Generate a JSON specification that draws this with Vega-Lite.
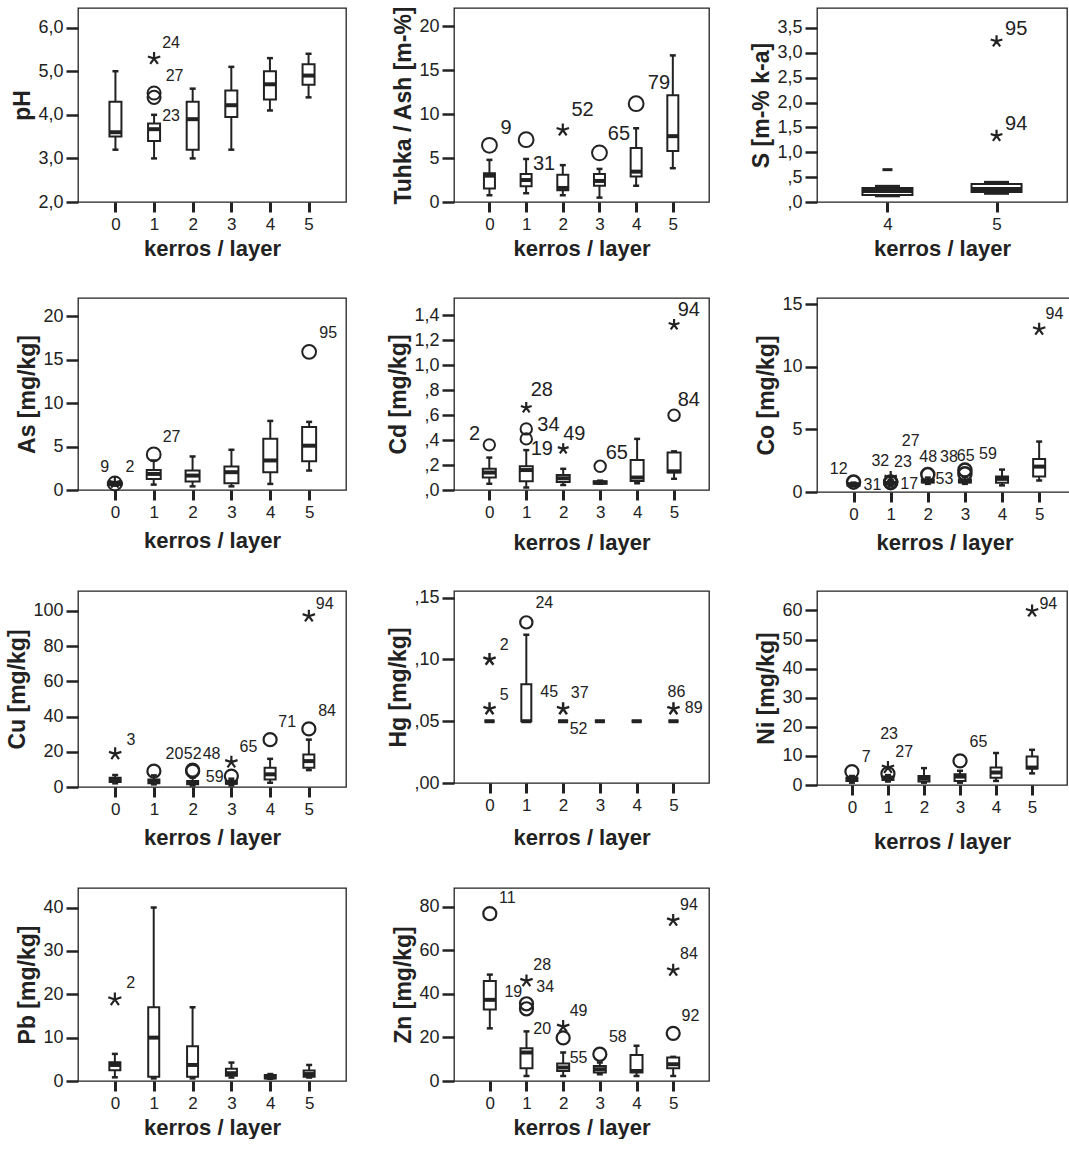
{
"$schema": "https://vega.github.io/schema/vega-lite/v6.json",
"background": "white",
"padding": {"left": 6, "top": 4, "right": 0, "bottom": 0},
"columns": 3,
"spacing": {"row": 34, "column": 40},
"resolve": {"scale": {"x": "independent", "y": "independent"}},
"datasets": {
"box": [
{"p":"pH","k":0,"lo":3.2,"q1":3.5,"med":3.6,"q3":4.3,"hi":5.0},
{"p":"pH","k":1,"lo":3.0,"q1":3.4,"med":3.67,"q3":3.8,"hi":4.0},
{"p":"pH","k":2,"lo":3.0,"q1":3.2,"med":3.9,"q3":4.3,"hi":4.6},
{"p":"pH","k":3,"lo":3.2,"q1":3.95,"med":4.22,"q3":4.56,"hi":5.1},
{"p":"pH","k":4,"lo":4.1,"q1":4.35,"med":4.7,"q3":5.0,"hi":5.3},
{"p":"pH","k":5,"lo":4.4,"q1":4.69,"med":4.9,"q3":5.16,"hi":5.4},
{"p":"Ash","k":0,"lo":0.77,"q1":1.54,"med":3.0,"q3":3.27,"hi":4.8},
{"p":"Ash","k":1,"lo":1.0,"q1":1.8,"med":2.5,"q3":3.2,"hi":4.9},
{"p":"Ash","k":2,"lo":0.77,"q1":1.35,"med":1.6,"q3":3.1,"hi":4.2},
{"p":"Ash","k":3,"lo":0.5,"q1":1.85,"med":2.4,"q3":3.2,"hi":3.77},
{"p":"Ash","k":4,"lo":1.85,"q1":2.9,"med":3.46,"q3":6.15,"hi":8.4},
{"p":"Ash","k":5,"lo":3.85,"q1":5.8,"med":7.5,"q3":12.15,"hi":16.7},
{"p":"S","k":4,"lo":0.12,"q1":0.14,"med":0.22,"q3":0.28,"hi":0.32},
{"p":"S","k":5,"lo":0.17,"q1":0.2,"med":0.26,"q3":0.36,"hi":0.4},
{"p":"As","k":0,"lo":0.5,"q1":0.6,"med":0.7,"q3":0.8,"hi":0.9},
{"p":"As","k":1,"lo":0.62,"q1":1.27,"med":1.85,"q3":2.3,"hi":3.4},
{"p":"As","k":2,"lo":0.42,"q1":0.97,"med":1.66,"q3":2.24,"hi":3.86},
{"p":"As","k":3,"lo":0.42,"q1":0.77,"med":2.05,"q3":2.7,"hi":4.63},
{"p":"As","k":4,"lo":0.7,"q1":2.05,"med":3.4,"q3":5.9,"hi":7.95},
{"p":"As","k":5,"lo":2.24,"q1":3.32,"med":5.1,"q3":7.26,"hi":7.84},
{"p":"Cd","k":0,"lo":0.05,"q1":0.1,"med":0.14,"q3":0.17,"hi":0.26},
{"p":"Cd","k":1,"lo":0.02,"q1":0.07,"med":0.16,"q3":0.19,"hi":0.32},
{"p":"Cd","k":2,"lo":0.04,"q1":0.064,"med":0.094,"q3":0.12,"hi":0.17},
{"p":"Cd","k":3,"lo":0.05,"q1":0.05,"med":0.06,"q3":0.07,"hi":0.075},
{"p":"Cd","k":4,"lo":0.054,"q1":0.072,"med":0.1,"q3":0.24,"hi":0.41},
{"p":"Cd","k":5,"lo":0.09,"q1":0.14,"med":0.15,"q3":0.3,"hi":0.31},
{"p":"Co","k":0,"lo":0.45,"q1":0.5,"med":0.6,"q3":0.7,"hi":0.75},
{"p":"Co","k":1,"lo":0.5,"q1":0.6,"med":0.7,"q3":0.8,"hi":0.95},
{"p":"Co","k":2,"lo":0.65,"q1":0.75,"med":0.85,"q3":1.0,"hi":1.15},
{"p":"Co","k":3,"lo":0.65,"q1":0.75,"med":0.85,"q3":1.0,"hi":1.2},
{"p":"Co","k":4,"lo":0.53,"q1":0.74,"med":1.05,"q3":1.24,"hi":1.79},
{"p":"Co","k":5,"lo":0.92,"q1":1.24,"med":2.03,"q3":2.63,"hi":4.03},
{"p":"Cu","k":0,"lo":2.1,"q1":2.8,"med":4.3,"q3":5.3,"hi":6.8},
{"p":"Cu","k":1,"lo":1.5,"q1":2.1,"med":3.4,"q3":4.3,"hi":6.6},
{"p":"Cu","k":2,"lo":0.9,"q1":1.5,"med":2.4,"q3":3.4,"hi":5.3},
{"p":"Cu","k":3,"lo":0.9,"q1":1.9,"med":2.4,"q3":3.4,"hi":4.7},
{"p":"Cu","k":4,"lo":2.4,"q1":4.3,"med":7.2,"q3":10.9,"hi":16},
{"p":"Cu","k":5,"lo":9.6,"q1":10.9,"med":14.7,"q3":18.5,"hi":26.9},
{"p":"Hg","k":0,"lo":0.05,"q1":0.05,"med":0.05,"q3":0.05,"hi":0.05},
{"p":"Hg","k":1,"lo":0.05,"q1":0.05,"med":0.05,"q3":0.08,"hi":0.12},
{"p":"Hg","k":2,"lo":0.05,"q1":0.05,"med":0.05,"q3":0.05,"hi":0.05},
{"p":"Hg","k":3,"lo":0.05,"q1":0.05,"med":0.05,"q3":0.05,"hi":0.05},
{"p":"Hg","k":4,"lo":0.05,"q1":0.05,"med":0.05,"q3":0.05,"hi":0.05},
{"p":"Hg","k":5,"lo":0.05,"q1":0.05,"med":0.05,"q3":0.05,"hi":0.05},
{"p":"Ni","k":0,"lo":0.8,"q1":1.4,"med":2.0,"q3":2.5,"hi":3.1},
{"p":"Ni","k":1,"lo":1.2,"q1":1.7,"med":2.2,"q3":2.9,"hi":3.4},
{"p":"Ni","k":2,"lo":0.8,"q1":1.2,"med":2.2,"q3":3.1,"hi":5.8},
{"p":"Ni","k":3,"lo":0.8,"q1":1.4,"med":2.9,"q3":3.7,"hi":4.9},
{"p":"Ni","k":4,"lo":1.4,"q1":2.5,"med":4.3,"q3":6.0,"hi":11},
{"p":"Ni","k":5,"lo":4.0,"q1":5.7,"med":6.0,"q3":9.8,"hi":12.1},
{"p":"Pb","k":0,"lo":0.85,"q1":2.5,"med":3.7,"q3":4.3,"hi":6.25},
{"p":"Pb","k":1,"lo":0.6,"q1":1.0,"med":10,"q3":17,"hi":40},
{"p":"Pb","k":2,"lo":0.6,"q1":1.0,"med":3.7,"q3":8.0,"hi":17},
{"p":"Pb","k":3,"lo":0.8,"q1":1.2,"med":1.8,"q3":2.8,"hi":4.25},
{"p":"Pb","k":4,"lo":0.5,"q1":0.6,"med":0.85,"q3":1.4,"hi":1.6},
{"p":"Pb","k":5,"lo":0.8,"q1":1.0,"med":1.6,"q3":2.4,"hi":3.7},
{"p":"Zn","k":0,"lo":24.2,"q1":32.9,"med":37.3,"q3":46,"hi":48.9},
{"p":"Zn","k":1,"lo":2.3,"q1":5.9,"med":13.1,"q3":15.1,"hi":22.8},
{"p":"Zn","k":2,"lo":2.3,"q1":4.6,"med":6.2,"q3":8.0,"hi":13.1},
{"p":"Zn","k":3,"lo":3.1,"q1":3.9,"med":5.4,"q3":6.9,"hi":8.5},
{"p":"Zn","k":4,"lo":2.3,"q1":3.9,"med":4.6,"q3":11.9,"hi":16.2},
{"p":"Zn","k":5,"lo":2.3,"q1":5.9,"med":7.7,"q3":10.8,"hi":11.1}
],
"pts": [
{"p":"pH","k":1,"v":5.29,"t":"s"},{"p":"pH","k":1,"v":4.5,"t":"o"},{"p":"pH","k":1,"v":4.4,"t":"o"},
{"p":"Ash","k":0,"v":6.46,"t":"o"},{"p":"Ash","k":1,"v":7.1,"t":"o"},{"p":"Ash","k":2,"v":8.2,"t":"s"},{"p":"Ash","k":3,"v":5.6,"t":"o"},{"p":"Ash","k":4,"v":11.2,"t":"o"},
{"p":"S","k":5,"v":3.23,"t":"s"},{"p":"S","k":5,"v":1.33,"t":"s"},{"p":"S","k":4,"v":0.65,"t":"d"},
{"p":"As","k":0,"v":0.75,"t":"o"},{"p":"As","k":0,"v":0.85,"t":"s"},{"p":"As","k":1,"v":4.1,"t":"o"},{"p":"As","k":5,"v":15.9,"t":"o"},
{"p":"Cd","k":0,"v":0.362,"t":"o"},{"p":"Cd","k":1,"v":0.66,"t":"s"},{"p":"Cd","k":1,"v":0.49,"t":"o"},{"p":"Cd","k":1,"v":0.41,"t":"o"},{"p":"Cd","k":2,"v":0.33,"t":"s"},{"p":"Cd","k":3,"v":0.19,"t":"o"},{"p":"Cd","k":5,"v":1.325,"t":"s"},{"p":"Cd","k":5,"v":0.6,"t":"o"},
{"p":"Co","k":0,"v":0.79,"t":"o"},{"p":"Co","k":1,"v":0.75,"t":"o"},{"p":"Co","k":1,"v":0.8,"t":"o"},{"p":"Co","k":1,"v":1.15,"t":"s"},{"p":"Co","k":2,"v":1.39,"t":"o"},{"p":"Co","k":3,"v":1.76,"t":"o"},{"p":"Co","k":3,"v":1.45,"t":"o"},{"p":"Co","k":5,"v":13.0,"t":"s"},
{"p":"Cu","k":0,"v":18.8,"t":"s"},{"p":"Cu","k":1,"v":9.0,"t":"o"},{"p":"Cu","k":2,"v":9.6,"t":"o"},{"p":"Cu","k":2,"v":9.0,"t":"o"},{"p":"Cu","k":3,"v":14.1,"t":"s"},{"p":"Cu","k":3,"v":6.2,"t":"o"},{"p":"Cu","k":4,"v":26.9,"t":"o"},{"p":"Cu","k":5,"v":97,"t":"s"},{"p":"Cu","k":5,"v":33,"t":"o"},
{"p":"Hg","k":0,"v":0.1,"t":"s"},{"p":"Hg","k":0,"v":0.06,"t":"s"},{"p":"Hg","k":1,"v":0.13,"t":"o"},{"p":"Hg","k":2,"v":0.06,"t":"s"},{"p":"Hg","k":5,"v":0.06,"t":"s"},
{"p":"Ni","k":0,"v":4.6,"t":"o"},{"p":"Ni","k":1,"v":3.9,"t":"o"},{"p":"Ni","k":1,"v":6.0,"t":"s"},{"p":"Ni","k":3,"v":8.3,"t":"o"},{"p":"Ni","k":5,"v":59.8,"t":"s"},
{"p":"Pb","k":0,"v":18.8,"t":"s"},
{"p":"Zn","k":0,"v":76.9,"t":"o"},{"p":"Zn","k":1,"v":46,"t":"s"},{"p":"Zn","k":1,"v":35.5,"t":"o"},{"p":"Zn","k":1,"v":33.2,"t":"o"},{"p":"Zn","k":2,"v":25,"t":"s"},{"p":"Zn","k":2,"v":19.8,"t":"o"},{"p":"Zn","k":3,"v":12.3,"t":"o"},{"p":"Zn","k":5,"v":73.8,"t":"s"},{"p":"Zn","k":5,"v":50.9,"t":"s"},{"p":"Zn","k":5,"v":21.9,"t":"o"}
],
"lbl": [
{"p":"pH","k":1.44,"v":5.65,"s":"24"},{"p":"pH","k":1.53,"v":4.89,"s":"27"},{"p":"pH","k":1.44,"v":3.98,"s":"23"},
{"p":"Ash","k":0.45,"v":8.4,"s":"9"},{"p":"Ash","k":1.49,"v":4.35,"s":"31"},{"p":"Ash","k":2.54,"v":10.5,"s":"52"},{"p":"Ash","k":3.53,"v":7.8,"s":"65"},{"p":"Ash","k":4.62,"v":13.6,"s":"79"},
{"p":"S","k":5.18,"v":3.47,"s":"95"},{"p":"S","k":5.18,"v":1.57,"s":"94"},
{"p":"As","k":-0.26,"v":2.6,"s":"9"},{"p":"As","k":0.39,"v":2.6,"s":"2"},{"p":"As","k":1.46,"v":6.1,"s":"27"},{"p":"As","k":5.49,"v":18.1,"s":"95"},
{"p":"Cd","k":-0.4,"v":0.45,"s":"2"},{"p":"Cd","k":1.42,"v":0.8,"s":"28"},{"p":"Cd","k":1.6,"v":0.52,"s":"34"},{"p":"Cd","k":1.42,"v":0.33,"s":"19"},{"p":"Cd","k":2.3,"v":0.45,"s":"49"},{"p":"Cd","k":3.45,"v":0.3,"s":"65"},{"p":"Cd","k":5.4,"v":1.44,"s":"94"},{"p":"Cd","k":5.4,"v":0.72,"s":"84"},
{"p":"Co","k":-0.4,"v":1.84,"s":"12"},{"p":"Co","k":0.51,"v":0.53,"s":"31"},{"p":"Co","k":0.72,"v":2.5,"s":"32"},{"p":"Co","k":1.33,"v":2.37,"s":"23"},{"p":"Co","k":1.54,"v":4.08,"s":"27"},{"p":"Co","k":2.01,"v":2.76,"s":"48"},{"p":"Co","k":1.5,"v":0.66,"s":"17"},{"p":"Co","k":2.45,"v":1.0,"s":"53"},{"p":"Co","k":2.57,"v":2.76,"s":"38"},{"p":"Co","k":3.02,"v":2.9,"s":"65"},{"p":"Co","k":3.62,"v":3.03,"s":"59"},{"p":"Co","k":5.41,"v":14.2,"s":"94"},
{"p":"Cu","k":0.41,"v":26.9,"s":"3"},{"p":"Cu","k":1.53,"v":18.5,"s":"20"},{"p":"Cu","k":2.0,"v":18.5,"s":"52"},{"p":"Cu","k":2.49,"v":18.5,"s":"48"},{"p":"Cu","k":3.44,"v":22.6,"s":"65"},{"p":"Cu","k":2.57,"v":5.8,"s":"59"},{"p":"Cu","k":4.44,"v":36.9,"s":"71"},{"p":"Cu","k":5.41,"v":104,"s":"94"},{"p":"Cu","k":5.47,"v":42.9,"s":"84"},
{"p":"Hg","k":0.4,"v":0.112,"s":"2"},{"p":"Hg","k":0.4,"v":0.0712,"s":"5"},{"p":"Hg","k":1.49,"v":0.1454,"s":"24"},{"p":"Hg","k":1.62,"v":0.0734,"s":"45"},{"p":"Hg","k":2.45,"v":0.0728,"s":"37"},{"p":"Hg","k":2.42,"v":0.044,"s":"52"},{"p":"Hg","k":5.08,"v":0.0739,"s":"86"},{"p":"Hg","k":5.55,"v":0.0603,"s":"89"},
{"p":"Ni","k":0.4,"v":9.5,"s":"7"},{"p":"Ni","k":1.03,"v":17.6,"s":"23"},{"p":"Ni","k":1.45,"v":11.4,"s":"27"},{"p":"Ni","k":3.51,"v":14.9,"s":"65"},{"p":"Ni","k":5.45,"v":62.3,"s":"94"},
{"p":"Pb","k":0.41,"v":22.6,"s":"2"},
{"p":"Zn","k":0.48,"v":84,"s":"11"},{"p":"Zn","k":1.43,"v":53.2,"s":"28"},{"p":"Zn","k":0.64,"v":40.8,"s":"19"},{"p":"Zn","k":1.51,"v":43.2,"s":"34"},{"p":"Zn","k":1.43,"v":23.9,"s":"20"},{"p":"Zn","k":2.42,"v":32.4,"s":"49"},{"p":"Zn","k":2.42,"v":10.8,"s":"55"},{"p":"Zn","k":3.49,"v":20.4,"s":"58"},{"p":"Zn","k":5.43,"v":81,"s":"94"},{"p":"Zn","k":5.43,"v":58.3,"s":"84"},{"p":"Zn","k":5.47,"v":30.1,"s":"92"}
]
},
"concat": [
{"width":268,"height":194,
 "encoding":{"x":{"field":"k","type":"quantitative","scale":{"domain":[-0.84,5.84],"nice":false,"zero":false},"axis":{"values":[0,1,2,3,4,5],"format":"d","title":"kerros /  layer"}}},
 "layer":[
  {"data":{"name":"box"},"transform":[{"filter":"datum.p=='pH'"}],"mark":{"type":"rule","color":"#222","strokeWidth":2},"encoding":{"y":{"field":"lo","type":"quantitative","title":"pH","scale":{"domain":[2,6.45],"nice":false,"zero":false},"axis":{"values":[2,3,4,5,6],"labelExpr":"replace(format(datum.value,'.1f'),'.',',')"}},"y2":{"field":"hi"}}},
  {"data":{"name":"box"},"transform":[{"filter":"datum.p=='pH'"}],"mark":{"type":"tick","orient":"horizontal","size":6,"thickness":2.5,"color":"#222"},"encoding":{"y":{"field":"lo","type":"quantitative","title":"pH","axis":{"values":[2,3,4,5,6],"labelExpr":"replace(format(datum.value,'.1f'),'.',',')"}}}},
  {"data":{"name":"box"},"transform":[{"filter":"datum.p=='pH'"}],"mark":{"type":"tick","orient":"horizontal","size":6,"thickness":2.5,"color":"#222"},"encoding":{"y":{"field":"hi","type":"quantitative","title":"pH","axis":{"values":[2,3,4,5,6],"labelExpr":"replace(format(datum.value,'.1f'),'.',',')"}}}},
  {"data":{"name":"box"},"transform":[{"filter":"datum.p=='pH'"}],"mark":{"type":"bar","orient":"vertical","size":12,"fill":"white","stroke":"#222","strokeWidth":2},"encoding":{"y":{"field":"q1","type":"quantitative","title":"pH","axis":{"values":[2,3,4,5,6],"labelExpr":"replace(format(datum.value,'.1f'),'.',',')"}},"y2":{"field":"q3"}}},
  {"data":{"name":"box"},"transform":[{"filter":"datum.p=='pH'"}],"mark":{"type":"tick","orient":"horizontal","size":12,"thickness":4,"color":"#222"},"encoding":{"y":{"field":"med","type":"quantitative","title":"pH","axis":{"values":[2,3,4,5,6],"labelExpr":"replace(format(datum.value,'.1f'),'.',',')"}}}},
  {"data":{"name":"pts"},"transform":[{"filter":"datum.p=='pH' && datum.t=='o'"}],"mark":{"type":"point","shape":"circle","size":170,"filled":false,"color":"#222","strokeWidth":2},"encoding":{"y":{"field":"v","type":"quantitative","title":"pH","axis":{"values":[2,3,4,5,6],"labelExpr":"replace(format(datum.value,'.1f'),'.',',')"}}}},
  {"data":{"name":"pts"},"transform":[{"filter":"datum.p=='pH' && datum.t=='s'"}],"mark":{"type":"point","shape":"M0,0L0,-1M0,0L0.95,-0.31M0,0L-0.95,-0.31M0,0L0.59,0.81M0,0L-0.59,0.81","size":170,"filled":false,"color":"#222","strokeWidth":2.2},"encoding":{"y":{"field":"v","type":"quantitative","title":"pH","axis":{"values":[2,3,4,5,6],"labelExpr":"replace(format(datum.value,'.1f'),'.',',')"}}}},
  {"data":{"name":"lbl"},"transform":[{"filter":"datum.p=='pH'"}],"mark":{"type":"text","fontSize":16,"color":"#222","align":"center","baseline":"middle"},"encoding":{"y":{"field":"v","type":"quantitative","title":"pH","axis":{"values":[2,3,4,5,6],"labelExpr":"replace(format(datum.value,'.1f'),'.',',')"}},"text":{"field":"s"}}}
 ]},
{"width":255,"height":194,
 "encoding":{"x":{"field":"k","type":"quantitative","scale":{"domain":[-0.83,5.85],"nice":false,"zero":false},"axis":{"values":[0,1,2,3,4,5],"format":"d","title":"kerros / layer"}}},
 "layer":[
  {"data":{"name":"box"},"transform":[{"filter":"datum.p=='Ash'"}],"mark":{"type":"rule","color":"#222","strokeWidth":2},"encoding":{"y":{"field":"lo","type":"quantitative","title":"Tuhka / Ash [m-%]","scale":{"domain":[0,22.1],"nice":false,"zero":false},"axis":{"values":[0,5,10,15,20],"format":"d"}},"y2":{"field":"hi"}}},
  {"data":{"name":"box"},"transform":[{"filter":"datum.p=='Ash'"}],"mark":{"type":"tick","orient":"horizontal","size":6,"thickness":2.5,"color":"#222"},"encoding":{"y":{"field":"lo","type":"quantitative","title":"Tuhka / Ash [m-%]","axis":{"values":[0,5,10,15,20],"format":"d"}}}},
  {"data":{"name":"box"},"transform":[{"filter":"datum.p=='Ash'"}],"mark":{"type":"tick","orient":"horizontal","size":6,"thickness":2.5,"color":"#222"},"encoding":{"y":{"field":"hi","type":"quantitative","title":"Tuhka / Ash [m-%]","axis":{"values":[0,5,10,15,20],"format":"d"}}}},
  {"data":{"name":"box"},"transform":[{"filter":"datum.p=='Ash'"}],"mark":{"type":"bar","orient":"vertical","size":11,"fill":"white","stroke":"#222","strokeWidth":2},"encoding":{"y":{"field":"q1","type":"quantitative","title":"Tuhka / Ash [m-%]","axis":{"values":[0,5,10,15,20],"format":"d"}},"y2":{"field":"q3"}}},
  {"data":{"name":"box"},"transform":[{"filter":"datum.p=='Ash'"}],"mark":{"type":"tick","orient":"horizontal","size":11,"thickness":4,"color":"#222"},"encoding":{"y":{"field":"med","type":"quantitative","title":"Tuhka / Ash [m-%]","axis":{"values":[0,5,10,15,20],"format":"d"}}}},
  {"data":{"name":"pts"},"transform":[{"filter":"datum.p=='Ash' && datum.t=='o'"}],"mark":{"type":"point","shape":"circle","size":220,"filled":false,"color":"#222","strokeWidth":2},"encoding":{"y":{"field":"v","type":"quantitative","title":"Tuhka / Ash [m-%]","axis":{"values":[0,5,10,15,20],"format":"d"}}}},
  {"data":{"name":"pts"},"transform":[{"filter":"datum.p=='Ash' && datum.t=='s'"}],"mark":{"type":"point","shape":"M0,0L0,-1M0,0L0.95,-0.31M0,0L-0.95,-0.31M0,0L0.59,0.81M0,0L-0.59,0.81","size":170,"filled":false,"color":"#222","strokeWidth":2.2},"encoding":{"y":{"field":"v","type":"quantitative","title":"Tuhka / Ash [m-%]","axis":{"values":[0,5,10,15,20],"format":"d"}}}},
  {"data":{"name":"lbl"},"transform":[{"filter":"datum.p=='Ash'"}],"mark":{"type":"text","fontSize":20,"color":"#222","align":"center","baseline":"middle"},"encoding":{"y":{"field":"v","type":"quantitative","title":"Tuhka / Ash [m-%]","axis":{"values":[0,5,10,15,20],"format":"d"}},"text":{"field":"s"}}}
 ]},
{"width":250,"height":194,
 "encoding":{"x":{"field":"k","type":"quantitative","scale":{"domain":[3.4,5.6],"nice":false,"zero":false},"axis":{"values":[4,5],"format":"d","title":"kerros / layer"}}},
 "layer":[
  {"data":{"name":"box"},"transform":[{"filter":"datum.p=='S'"}],"mark":{"type":"rule","color":"#222","strokeWidth":2},"encoding":{"y":{"field":"lo","type":"quantitative","title":"S [m-% k-a]","scale":{"domain":[0,3.9],"nice":false,"zero":false},"axis":{"values":[0,0.5,1,1.5,2,2.5,3,3.5],"labelExpr":"datum.value < 0.99 ? replace(format(datum.value,'.1f'),'0.',',') : replace(format(datum.value,'.1f'),'.',',')"}},"y2":{"field":"hi"}}},
  {"data":{"name":"box"},"transform":[{"filter":"datum.p=='S'"}],"mark":{"type":"tick","orient":"horizontal","size":25,"thickness":2.5,"color":"#222"},"encoding":{"y":{"field":"lo","type":"quantitative","title":"S [m-% k-a]","axis":{"values":[0,0.5,1,1.5,2,2.5,3,3.5],"labelExpr":"datum.value < 0.99 ? replace(format(datum.value,'.1f'),'0.',',') : replace(format(datum.value,'.1f'),'.',',')"}}}},
  {"data":{"name":"box"},"transform":[{"filter":"datum.p=='S'"}],"mark":{"type":"tick","orient":"horizontal","size":25,"thickness":2.5,"color":"#222"},"encoding":{"y":{"field":"hi","type":"quantitative","title":"S [m-% k-a]","axis":{"values":[0,0.5,1,1.5,2,2.5,3,3.5],"labelExpr":"datum.value < 0.99 ? replace(format(datum.value,'.1f'),'0.',',') : replace(format(datum.value,'.1f'),'.',',')"}}}},
  {"data":{"name":"box"},"transform":[{"filter":"datum.p=='S'"}],"mark":{"type":"bar","orient":"vertical","size":50,"fill":"white","stroke":"#222","strokeWidth":2},"encoding":{"y":{"field":"q1","type":"quantitative","title":"S [m-% k-a]","axis":{"values":[0,0.5,1,1.5,2,2.5,3,3.5],"labelExpr":"datum.value < 0.99 ? replace(format(datum.value,'.1f'),'0.',',') : replace(format(datum.value,'.1f'),'.',',')"}},"y2":{"field":"q3"}}},
  {"data":{"name":"box"},"transform":[{"filter":"datum.p=='S'"}],"mark":{"type":"tick","orient":"horizontal","size":50,"thickness":4,"color":"#222"},"encoding":{"y":{"field":"med","type":"quantitative","title":"S [m-% k-a]","axis":{"values":[0,0.5,1,1.5,2,2.5,3,3.5],"labelExpr":"datum.value < 0.99 ? replace(format(datum.value,'.1f'),'0.',',') : replace(format(datum.value,'.1f'),'.',',')"}}}},
  {"data":{"name":"pts"},"transform":[{"filter":"datum.p=='S' && datum.t=='d'"}],"mark":{"type":"point","shape":"M-1,0L1,0","size":100,"filled":false,"color":"#222","strokeWidth":3},"encoding":{"y":{"field":"v","type":"quantitative","title":"S [m-% k-a]","axis":{"values":[0,0.5,1,1.5,2,2.5,3,3.5],"labelExpr":"datum.value < 0.99 ? replace(format(datum.value,'.1f'),'0.',',') : replace(format(datum.value,'.1f'),'.',',')"}}}},
  {"data":{"name":"pts"},"transform":[{"filter":"datum.p=='S' && datum.t=='s'"}],"mark":{"type":"point","shape":"M0,0L0,-1M0,0L0.95,-0.31M0,0L-0.95,-0.31M0,0L0.59,0.81M0,0L-0.59,0.81","size":150,"filled":false,"color":"#222","strokeWidth":2.2},"encoding":{"y":{"field":"v","type":"quantitative","title":"S [m-% k-a]","axis":{"values":[0,0.5,1,1.5,2,2.5,3,3.5],"labelExpr":"datum.value < 0.99 ? replace(format(datum.value,'.1f'),'0.',',') : replace(format(datum.value,'.1f'),'.',',')"}}}},
  {"data":{"name":"lbl"},"transform":[{"filter":"datum.p=='S'"}],"mark":{"type":"text","fontSize":20,"color":"#222","align":"center","baseline":"middle"},"encoding":{"y":{"field":"v","type":"quantitative","title":"S [m-% k-a]","axis":{"values":[0,0.5,1,1.5,2,2.5,3,3.5],"labelExpr":"datum.value < 0.99 ? replace(format(datum.value,'.1f'),'0.',',') : replace(format(datum.value,'.1f'),'.',',')"}},"text":{"field":"s"}}}
 ]},
{"width":268,"height":192,
 "encoding":{"x":{"field":"k","type":"quantitative","scale":{"domain":[-0.82,5.82],"nice":false,"zero":false},"axis":{"values":[0,1,2,3,4,5],"format":"d","title":"kerros / layer","titlePadding":10}}},
 "layer":[
  {"data":{"name":"box"},"transform":[{"filter":"datum.p=='As'"}],"mark":{"type":"rule","color":"#222","strokeWidth":2},"encoding":{"y":{"field":"lo","type":"quantitative","title":"As [mg/kg]","scale":{"domain":[0,22.1],"nice":false,"zero":false},"axis":{"values":[0,5,10,15,20],"format":"d"}},"y2":{"field":"hi"}}},
  {"data":{"name":"box"},"transform":[{"filter":"datum.p=='As'"}],"mark":{"type":"tick","orient":"horizontal","size":6,"thickness":2.5,"color":"#222"},"encoding":{"y":{"field":"lo","type":"quantitative","title":"As [mg/kg]","axis":{"values":[0,5,10,15,20],"format":"d"}}}},
  {"data":{"name":"box"},"transform":[{"filter":"datum.p=='As'"}],"mark":{"type":"tick","orient":"horizontal","size":6,"thickness":2.5,"color":"#222"},"encoding":{"y":{"field":"hi","type":"quantitative","title":"As [mg/kg]","axis":{"values":[0,5,10,15,20],"format":"d"}}}},
  {"data":{"name":"box"},"transform":[{"filter":"datum.p=='As'"}],"mark":{"type":"bar","orient":"vertical","size":14,"fill":"white","stroke":"#222","strokeWidth":2},"encoding":{"y":{"field":"q1","type":"quantitative","title":"As [mg/kg]","axis":{"values":[0,5,10,15,20],"format":"d"}},"y2":{"field":"q3"}}},
  {"data":{"name":"box"},"transform":[{"filter":"datum.p=='As'"}],"mark":{"type":"tick","orient":"horizontal","size":14,"thickness":4,"color":"#222"},"encoding":{"y":{"field":"med","type":"quantitative","title":"As [mg/kg]","axis":{"values":[0,5,10,15,20],"format":"d"}}}},
  {"data":{"name":"pts"},"transform":[{"filter":"datum.p=='As' && datum.t=='o'"}],"mark":{"type":"point","shape":"circle","size":190,"filled":false,"color":"#222","strokeWidth":2},"encoding":{"y":{"field":"v","type":"quantitative","title":"As [mg/kg]","axis":{"values":[0,5,10,15,20],"format":"d"}}}},
  {"data":{"name":"pts"},"transform":[{"filter":"datum.p=='As' && datum.t=='s'"}],"mark":{"type":"point","shape":"M0,0L0,-1M0,0L0.95,-0.31M0,0L-0.95,-0.31M0,0L0.59,0.81M0,0L-0.59,0.81","size":150,"filled":false,"color":"#222","strokeWidth":2.2},"encoding":{"y":{"field":"v","type":"quantitative","title":"As [mg/kg]","axis":{"values":[0,5,10,15,20],"format":"d"}}}},
  {"data":{"name":"lbl"},"transform":[{"filter":"datum.p=='As'"}],"mark":{"type":"text","fontSize":16,"color":"#222","align":"center","baseline":"middle"},"encoding":{"y":{"field":"v","type":"quantitative","title":"As [mg/kg]","axis":{"values":[0,5,10,15,20],"format":"d"}},"text":{"field":"s"}}}
 ]},
{"width":255,"height":192,
 "encoding":{"x":{"field":"k","type":"quantitative","scale":{"domain":[-0.82,5.81],"nice":false,"zero":false},"axis":{"values":[0,1,2,3,4,5],"format":"d","title":"kerros / layer","titlePadding":12}}},
 "layer":[
  {"data":{"name":"box"},"transform":[{"filter":"datum.p=='Cd'"}],"mark":{"type":"rule","color":"#222","strokeWidth":2},"encoding":{"y":{"field":"lo","type":"quantitative","title":"Cd [mg/kg]","scale":{"domain":[0,1.54],"nice":false,"zero":false},"axis":{"values":[0,0.2,0.4,0.6,0.8,1,1.2,1.4],"labelExpr":"datum.value < 0.99 ? replace(format(datum.value,'.1f'),'0.',',') : replace(format(datum.value,'.1f'),'.',',')"}},"y2":{"field":"hi"}}},
  {"data":{"name":"box"},"transform":[{"filter":"datum.p=='Cd'"}],"mark":{"type":"tick","orient":"horizontal","size":6,"thickness":2.5,"color":"#222"},"encoding":{"y":{"field":"lo","type":"quantitative","title":"Cd [mg/kg]","axis":{"values":[0,0.2,0.4,0.6,0.8,1,1.2,1.4],"labelExpr":"datum.value < 0.99 ? replace(format(datum.value,'.1f'),'0.',',') : replace(format(datum.value,'.1f'),'.',',')"}}}},
  {"data":{"name":"box"},"transform":[{"filter":"datum.p=='Cd'"}],"mark":{"type":"tick","orient":"horizontal","size":6,"thickness":2.5,"color":"#222"},"encoding":{"y":{"field":"hi","type":"quantitative","title":"Cd [mg/kg]","axis":{"values":[0,0.2,0.4,0.6,0.8,1,1.2,1.4],"labelExpr":"datum.value < 0.99 ? replace(format(datum.value,'.1f'),'0.',',') : replace(format(datum.value,'.1f'),'.',',')"}}}},
  {"data":{"name":"box"},"transform":[{"filter":"datum.p=='Cd'"}],"mark":{"type":"bar","orient":"vertical","size":13,"fill":"white","stroke":"#222","strokeWidth":2},"encoding":{"y":{"field":"q1","type":"quantitative","title":"Cd [mg/kg]","axis":{"values":[0,0.2,0.4,0.6,0.8,1,1.2,1.4],"labelExpr":"datum.value < 0.99 ? replace(format(datum.value,'.1f'),'0.',',') : replace(format(datum.value,'.1f'),'.',',')"}},"y2":{"field":"q3"}}},
  {"data":{"name":"box"},"transform":[{"filter":"datum.p=='Cd'"}],"mark":{"type":"tick","orient":"horizontal","size":13,"thickness":4,"color":"#222"},"encoding":{"y":{"field":"med","type":"quantitative","title":"Cd [mg/kg]","axis":{"values":[0,0.2,0.4,0.6,0.8,1,1.2,1.4],"labelExpr":"datum.value < 0.99 ? replace(format(datum.value,'.1f'),'0.',',') : replace(format(datum.value,'.1f'),'.',',')"}}}},
  {"data":{"name":"pts"},"transform":[{"filter":"datum.p=='Cd' && datum.t=='o'"}],"mark":{"type":"point","shape":"circle","size":130,"filled":false,"color":"#222","strokeWidth":2},"encoding":{"y":{"field":"v","type":"quantitative","title":"Cd [mg/kg]","axis":{"values":[0,0.2,0.4,0.6,0.8,1,1.2,1.4],"labelExpr":"datum.value < 0.99 ? replace(format(datum.value,'.1f'),'0.',',') : replace(format(datum.value,'.1f'),'.',',')"}}}},
  {"data":{"name":"pts"},"transform":[{"filter":"datum.p=='Cd' && datum.t=='s'"}],"mark":{"type":"point","shape":"M0,0L0,-1M0,0L0.95,-0.31M0,0L-0.95,-0.31M0,0L0.59,0.81M0,0L-0.59,0.81","size":130,"filled":false,"color":"#222","strokeWidth":2.2},"encoding":{"y":{"field":"v","type":"quantitative","title":"Cd [mg/kg]","axis":{"values":[0,0.2,0.4,0.6,0.8,1,1.2,1.4],"labelExpr":"datum.value < 0.99 ? replace(format(datum.value,'.1f'),'0.',',') : replace(format(datum.value,'.1f'),'.',',')"}}}},
  {"data":{"name":"lbl"},"transform":[{"filter":"datum.p=='Cd'"}],"mark":{"type":"text","fontSize":20,"color":"#222","align":"center","baseline":"middle"},"encoding":{"y":{"field":"v","type":"quantitative","title":"Cd [mg/kg]","axis":{"values":[0,0.2,0.4,0.6,0.8,1,1.2,1.4],"labelExpr":"datum.value < 0.99 ? replace(format(datum.value,'.1f'),'0.',',') : replace(format(datum.value,'.1f'),'.',',')"}},"text":{"field":"s"}}}
 ]},
{"width":255,"height":194,
 "encoding":{"x":{"field":"k","type":"quantitative","scale":{"domain":[-0.85,5.75],"nice":false,"zero":false},"axis":{"values":[0,1,2,3,4,5],"format":"d","title":"kerros / layer","titlePadding":10}}},
 "layer":[
  {"data":{"name":"box"},"transform":[{"filter":"datum.p=='Co'"}],"mark":{"type":"rule","color":"#222","strokeWidth":2},"encoding":{"y":{"field":"lo","type":"quantitative","title":"Co [mg/kg]","scale":{"domain":[0,15.5],"nice":false,"zero":false},"axis":{"values":[0,5,10,15],"format":"d"}},"y2":{"field":"hi"}}},
  {"data":{"name":"box"},"transform":[{"filter":"datum.p=='Co'"}],"mark":{"type":"tick","orient":"horizontal","size":6,"thickness":2.5,"color":"#222"},"encoding":{"y":{"field":"lo","type":"quantitative","title":"Co [mg/kg]","axis":{"values":[0,5,10,15],"format":"d"}}}},
  {"data":{"name":"box"},"transform":[{"filter":"datum.p=='Co'"}],"mark":{"type":"tick","orient":"horizontal","size":6,"thickness":2.5,"color":"#222"},"encoding":{"y":{"field":"hi","type":"quantitative","title":"Co [mg/kg]","axis":{"values":[0,5,10,15],"format":"d"}}}},
  {"data":{"name":"box"},"transform":[{"filter":"datum.p=='Co'"}],"mark":{"type":"bar","orient":"vertical","size":12,"fill":"white","stroke":"#222","strokeWidth":2},"encoding":{"y":{"field":"q1","type":"quantitative","title":"Co [mg/kg]","axis":{"values":[0,5,10,15],"format":"d"}},"y2":{"field":"q3"}}},
  {"data":{"name":"box"},"transform":[{"filter":"datum.p=='Co'"}],"mark":{"type":"tick","orient":"horizontal","size":12,"thickness":4,"color":"#222"},"encoding":{"y":{"field":"med","type":"quantitative","title":"Co [mg/kg]","axis":{"values":[0,5,10,15],"format":"d"}}}},
  {"data":{"name":"pts"},"transform":[{"filter":"datum.p=='Co' && datum.t=='o'"}],"mark":{"type":"point","shape":"circle","size":170,"filled":false,"color":"#222","strokeWidth":2.5},"encoding":{"y":{"field":"v","type":"quantitative","title":"Co [mg/kg]","axis":{"values":[0,5,10,15],"format":"d"}}}},
  {"data":{"name":"pts"},"transform":[{"filter":"datum.p=='Co' && datum.t=='s'"}],"mark":{"type":"point","shape":"M0,0L0,-1M0,0L0.95,-0.31M0,0L-0.95,-0.31M0,0L0.59,0.81M0,0L-0.59,0.81","size":170,"filled":false,"color":"#222","strokeWidth":2.2},"encoding":{"y":{"field":"v","type":"quantitative","title":"Co [mg/kg]","axis":{"values":[0,5,10,15],"format":"d"}}}},
  {"data":{"name":"lbl"},"transform":[{"filter":"datum.p=='Co'"}],"mark":{"type":"text","fontSize":16,"color":"#222","align":"center","baseline":"middle"},"encoding":{"y":{"field":"v","type":"quantitative","title":"Co [mg/kg]","axis":{"values":[0,5,10,15],"format":"d"}},"text":{"field":"s"}}}
 ]},
{"width":268,"height":196,
 "encoding":{"x":{"field":"k","type":"quantitative","scale":{"domain":[-0.83,5.83],"nice":false,"zero":false},"axis":{"values":[0,1,2,3,4,5],"format":"d","title":"kerros / layer","titlePadding":10}}},
 "layer":[
  {"data":{"name":"box"},"transform":[{"filter":"datum.p=='Cu'"}],"mark":{"type":"rule","color":"#222","strokeWidth":2},"encoding":{"y":{"field":"lo","type":"quantitative","title":"Cu [mg/kg]","scale":{"domain":[0,111.3],"nice":false,"zero":false},"axis":{"values":[0,20,40,60,80,100],"format":"d"}},"y2":{"field":"hi"}}},
  {"data":{"name":"box"},"transform":[{"filter":"datum.p=='Cu'"}],"mark":{"type":"tick","orient":"horizontal","size":6,"thickness":2.5,"color":"#222"},"encoding":{"y":{"field":"lo","type":"quantitative","title":"Cu [mg/kg]","axis":{"values":[0,20,40,60,80,100],"format":"d"}}}},
  {"data":{"name":"box"},"transform":[{"filter":"datum.p=='Cu'"}],"mark":{"type":"tick","orient":"horizontal","size":6,"thickness":2.5,"color":"#222"},"encoding":{"y":{"field":"hi","type":"quantitative","title":"Cu [mg/kg]","axis":{"values":[0,20,40,60,80,100],"format":"d"}}}},
  {"data":{"name":"box"},"transform":[{"filter":"datum.p=='Cu'"}],"mark":{"type":"bar","orient":"vertical","size":11,"fill":"white","stroke":"#222","strokeWidth":2},"encoding":{"y":{"field":"q1","type":"quantitative","title":"Cu [mg/kg]","axis":{"values":[0,20,40,60,80,100],"format":"d"}},"y2":{"field":"q3"}}},
  {"data":{"name":"box"},"transform":[{"filter":"datum.p=='Cu'"}],"mark":{"type":"tick","orient":"horizontal","size":11,"thickness":4,"color":"#222"},"encoding":{"y":{"field":"med","type":"quantitative","title":"Cu [mg/kg]","axis":{"values":[0,20,40,60,80,100],"format":"d"}}}},
  {"data":{"name":"pts"},"transform":[{"filter":"datum.p=='Cu' && datum.t=='o'"}],"mark":{"type":"point","shape":"circle","size":170,"filled":false,"color":"#222","strokeWidth":2.2},"encoding":{"y":{"field":"v","type":"quantitative","title":"Cu [mg/kg]","axis":{"values":[0,20,40,60,80,100],"format":"d"}}}},
  {"data":{"name":"pts"},"transform":[{"filter":"datum.p=='Cu' && datum.t=='s'"}],"mark":{"type":"point","shape":"M0,0L0,-1M0,0L0.95,-0.31M0,0L-0.95,-0.31M0,0L0.59,0.81M0,0L-0.59,0.81","size":170,"filled":false,"color":"#222","strokeWidth":2.2},"encoding":{"y":{"field":"v","type":"quantitative","title":"Cu [mg/kg]","axis":{"values":[0,20,40,60,80,100],"format":"d"}}}},
  {"data":{"name":"lbl"},"transform":[{"filter":"datum.p=='Cu'"}],"mark":{"type":"text","fontSize":16,"color":"#222","align":"center","baseline":"middle"},"encoding":{"y":{"field":"v","type":"quantitative","title":"Cu [mg/kg]","axis":{"values":[0,20,40,60,80,100],"format":"d"}},"text":{"field":"s"}}}
 ]},
{"width":255,"height":192,
 "encoding":{"x":{"field":"k","type":"quantitative","scale":{"domain":[-0.83,5.83],"nice":false,"zero":false},"axis":{"values":[0,1,2,3,4,5],"format":"d","title":"kerros / layer","titlePadding":14}}},
 "layer":[
  {"data":{"name":"box"},"transform":[{"filter":"datum.p=='Hg'"}],"mark":{"type":"rule","color":"#222","strokeWidth":2},"encoding":{"y":{"field":"lo","type":"quantitative","title":"Hg [mg/kg]","scale":{"domain":[0,0.1554],"nice":false,"zero":false},"axis":{"values":[0,0.05,0.1,0.15],"labelExpr":"replace(format(datum.value,'.2f'),'0.',',')"}},"y2":{"field":"hi"}}},
  {"data":{"name":"box"},"transform":[{"filter":"datum.p=='Hg'"}],"mark":{"type":"tick","orient":"horizontal","size":6,"thickness":2.5,"color":"#222"},"encoding":{"y":{"field":"lo","type":"quantitative","title":"Hg [mg/kg]","axis":{"values":[0,0.05,0.1,0.15],"labelExpr":"replace(format(datum.value,'.2f'),'0.',',')"}}}},
  {"data":{"name":"box"},"transform":[{"filter":"datum.p=='Hg'"}],"mark":{"type":"tick","orient":"horizontal","size":6,"thickness":2.5,"color":"#222"},"encoding":{"y":{"field":"hi","type":"quantitative","title":"Hg [mg/kg]","axis":{"values":[0,0.05,0.1,0.15],"labelExpr":"replace(format(datum.value,'.2f'),'0.',',')"}}}},
  {"data":{"name":"box"},"transform":[{"filter":"datum.p=='Hg'"}],"mark":{"type":"bar","orient":"vertical","size":10,"fill":"white","stroke":"#222","strokeWidth":2},"encoding":{"y":{"field":"q1","type":"quantitative","title":"Hg [mg/kg]","axis":{"values":[0,0.05,0.1,0.15],"labelExpr":"replace(format(datum.value,'.2f'),'0.',',')"}},"y2":{"field":"q3"}}},
  {"data":{"name":"box"},"transform":[{"filter":"datum.p=='Hg'"}],"mark":{"type":"tick","orient":"horizontal","size":10,"thickness":4,"color":"#222"},"encoding":{"y":{"field":"med","type":"quantitative","title":"Hg [mg/kg]","axis":{"values":[0,0.05,0.1,0.15],"labelExpr":"replace(format(datum.value,'.2f'),'0.',',')"}}}},
  {"data":{"name":"pts"},"transform":[{"filter":"datum.p=='Hg' && datum.t=='o'"}],"mark":{"type":"point","shape":"circle","size":150,"filled":false,"color":"#222","strokeWidth":2.2},"encoding":{"y":{"field":"v","type":"quantitative","title":"Hg [mg/kg]","axis":{"values":[0,0.05,0.1,0.15],"labelExpr":"replace(format(datum.value,'.2f'),'0.',',')"}}}},
  {"data":{"name":"pts"},"transform":[{"filter":"datum.p=='Hg' && datum.t=='s'"}],"mark":{"type":"point","shape":"M0,0L0,-1M0,0L0.95,-0.31M0,0L-0.95,-0.31M0,0L0.59,0.81M0,0L-0.59,0.81","size":170,"filled":false,"color":"#222","strokeWidth":2.5},"encoding":{"y":{"field":"v","type":"quantitative","title":"Hg [mg/kg]","axis":{"values":[0,0.05,0.1,0.15],"labelExpr":"replace(format(datum.value,'.2f'),'0.',',')"}}}},
  {"data":{"name":"lbl"},"transform":[{"filter":"datum.p=='Hg'"}],"mark":{"type":"text","fontSize":16,"color":"#222","align":"center","baseline":"middle"},"encoding":{"y":{"field":"v","type":"quantitative","title":"Hg [mg/kg]","axis":{"values":[0,0.05,0.1,0.15],"labelExpr":"replace(format(datum.value,'.2f'),'0.',',')"}},"text":{"field":"s"}}}
 ]},
{"width":250,"height":194,
 "encoding":{"x":{"field":"k","type":"quantitative","scale":{"domain":[-0.83,5.83],"nice":false,"zero":false},"axis":{"values":[0,1,2,3,4,5],"format":"d","title":"kerros / layer","titlePadding":16}}},
 "layer":[
  {"data":{"name":"box"},"transform":[{"filter":"datum.p=='Ni'"}],"mark":{"type":"rule","color":"#222","strokeWidth":2},"encoding":{"y":{"field":"lo","type":"quantitative","title":"Ni [mg/kg]","scale":{"domain":[0,66.7],"nice":false,"zero":false},"axis":{"values":[0,10,20,30,40,50,60],"format":"d"}},"y2":{"field":"hi"}}},
  {"data":{"name":"box"},"transform":[{"filter":"datum.p=='Ni'"}],"mark":{"type":"tick","orient":"horizontal","size":6,"thickness":2.5,"color":"#222"},"encoding":{"y":{"field":"lo","type":"quantitative","title":"Ni [mg/kg]","axis":{"values":[0,10,20,30,40,50,60],"format":"d"}}}},
  {"data":{"name":"box"},"transform":[{"filter":"datum.p=='Ni'"}],"mark":{"type":"tick","orient":"horizontal","size":6,"thickness":2.5,"color":"#222"},"encoding":{"y":{"field":"hi","type":"quantitative","title":"Ni [mg/kg]","axis":{"values":[0,10,20,30,40,50,60],"format":"d"}}}},
  {"data":{"name":"box"},"transform":[{"filter":"datum.p=='Ni'"}],"mark":{"type":"bar","orient":"vertical","size":11,"fill":"white","stroke":"#222","strokeWidth":2},"encoding":{"y":{"field":"q1","type":"quantitative","title":"Ni [mg/kg]","axis":{"values":[0,10,20,30,40,50,60],"format":"d"}},"y2":{"field":"q3"}}},
  {"data":{"name":"box"},"transform":[{"filter":"datum.p=='Ni'"}],"mark":{"type":"tick","orient":"horizontal","size":11,"thickness":4,"color":"#222"},"encoding":{"y":{"field":"med","type":"quantitative","title":"Ni [mg/kg]","axis":{"values":[0,10,20,30,40,50,60],"format":"d"}}}},
  {"data":{"name":"pts"},"transform":[{"filter":"datum.p=='Ni' && datum.t=='o'"}],"mark":{"type":"point","shape":"circle","size":170,"filled":false,"color":"#222","strokeWidth":2.2},"encoding":{"y":{"field":"v","type":"quantitative","title":"Ni [mg/kg]","axis":{"values":[0,10,20,30,40,50,60],"format":"d"}}}},
  {"data":{"name":"pts"},"transform":[{"filter":"datum.p=='Ni' && datum.t=='s'"}],"mark":{"type":"point","shape":"M0,0L0,-1M0,0L0.95,-0.31M0,0L-0.95,-0.31M0,0L0.59,0.81M0,0L-0.59,0.81","size":170,"filled":false,"color":"#222","strokeWidth":2.2},"encoding":{"y":{"field":"v","type":"quantitative","title":"Ni [mg/kg]","axis":{"values":[0,10,20,30,40,50,60],"format":"d"}}}},
  {"data":{"name":"lbl"},"transform":[{"filter":"datum.p=='Ni'"}],"mark":{"type":"text","fontSize":16,"color":"#222","align":"center","baseline":"middle"},"encoding":{"y":{"field":"v","type":"quantitative","title":"Ni [mg/kg]","axis":{"values":[0,10,20,30,40,50,60],"format":"d"}},"text":{"field":"s"}}}
 ]},
{"width":268,"height":193,
 "encoding":{"x":{"field":"k","type":"quantitative","scale":{"domain":[-0.82,5.82],"nice":false,"zero":false},"axis":{"values":[0,1,2,3,4,5],"format":"d","title":"kerros / layer"}}},
 "layer":[
  {"data":{"name":"box"},"transform":[{"filter":"datum.p=='Pb'"}],"mark":{"type":"rule","color":"#222","strokeWidth":2},"encoding":{"y":{"field":"lo","type":"quantitative","title":"Pb [mg/kg]","scale":{"domain":[0,44.5],"nice":false,"zero":false},"axis":{"values":[0,10,20,30,40],"format":"d"}},"y2":{"field":"hi"}}},
  {"data":{"name":"box"},"transform":[{"filter":"datum.p=='Pb'"}],"mark":{"type":"tick","orient":"horizontal","size":6,"thickness":2.5,"color":"#222"},"encoding":{"y":{"field":"lo","type":"quantitative","title":"Pb [mg/kg]","axis":{"values":[0,10,20,30,40],"format":"d"}}}},
  {"data":{"name":"box"},"transform":[{"filter":"datum.p=='Pb'"}],"mark":{"type":"tick","orient":"horizontal","size":6,"thickness":2.5,"color":"#222"},"encoding":{"y":{"field":"hi","type":"quantitative","title":"Pb [mg/kg]","axis":{"values":[0,10,20,30,40],"format":"d"}}}},
  {"data":{"name":"box"},"transform":[{"filter":"datum.p=='Pb'"}],"mark":{"type":"bar","orient":"vertical","size":11,"fill":"white","stroke":"#222","strokeWidth":2},"encoding":{"y":{"field":"q1","type":"quantitative","title":"Pb [mg/kg]","axis":{"values":[0,10,20,30,40],"format":"d"}},"y2":{"field":"q3"}}},
  {"data":{"name":"box"},"transform":[{"filter":"datum.p=='Pb'"}],"mark":{"type":"tick","orient":"horizontal","size":11,"thickness":4,"color":"#222"},"encoding":{"y":{"field":"med","type":"quantitative","title":"Pb [mg/kg]","axis":{"values":[0,10,20,30,40],"format":"d"}}}},
  {"data":{"name":"pts"},"transform":[{"filter":"datum.p=='Pb' && datum.t=='s'"}],"mark":{"type":"point","shape":"M0,0L0,-1M0,0L0.95,-0.31M0,0L-0.95,-0.31M0,0L0.59,0.81M0,0L-0.59,0.81","size":190,"filled":false,"color":"#222","strokeWidth":2.2},"encoding":{"y":{"field":"v","type":"quantitative","title":"Pb [mg/kg]","axis":{"values":[0,10,20,30,40],"format":"d"}}}},
  {"data":{"name":"lbl"},"transform":[{"filter":"datum.p=='Pb'"}],"mark":{"type":"text","fontSize":16,"color":"#222","align":"center","baseline":"middle"},"encoding":{"y":{"field":"v","type":"quantitative","title":"Pb [mg/kg]","axis":{"values":[0,10,20,30,40],"format":"d"}},"text":{"field":"s"}}}
 ]},
{"width":255,"height":193,
 "encoding":{"x":{"field":"k","type":"quantitative","scale":{"domain":[-0.84,5.84],"nice":false,"zero":false},"axis":{"values":[0,1,2,3,4,5],"format":"d","title":"kerros / layer"}}},
 "layer":[
  {"data":{"name":"box"},"transform":[{"filter":"datum.p=='Zn'"}],"mark":{"type":"rule","color":"#222","strokeWidth":2},"encoding":{"y":{"field":"lo","type":"quantitative","title":"Zn [mg/kg]","scale":{"domain":[0,88.7],"nice":false,"zero":false},"axis":{"values":[0,20,40,60,80],"format":"d"}},"y2":{"field":"hi"}}},
  {"data":{"name":"box"},"transform":[{"filter":"datum.p=='Zn'"}],"mark":{"type":"tick","orient":"horizontal","size":6,"thickness":2.5,"color":"#222"},"encoding":{"y":{"field":"lo","type":"quantitative","title":"Zn [mg/kg]","axis":{"values":[0,20,40,60,80],"format":"d"}}}},
  {"data":{"name":"box"},"transform":[{"filter":"datum.p=='Zn'"}],"mark":{"type":"tick","orient":"horizontal","size":6,"thickness":2.5,"color":"#222"},"encoding":{"y":{"field":"hi","type":"quantitative","title":"Zn [mg/kg]","axis":{"values":[0,20,40,60,80],"format":"d"}}}},
  {"data":{"name":"box"},"transform":[{"filter":"datum.p=='Zn'"}],"mark":{"type":"bar","orient":"vertical","size":12,"fill":"white","stroke":"#222","strokeWidth":2},"encoding":{"y":{"field":"q1","type":"quantitative","title":"Zn [mg/kg]","axis":{"values":[0,20,40,60,80],"format":"d"}},"y2":{"field":"q3"}}},
  {"data":{"name":"box"},"transform":[{"filter":"datum.p=='Zn'"}],"mark":{"type":"tick","orient":"horizontal","size":12,"thickness":4,"color":"#222"},"encoding":{"y":{"field":"med","type":"quantitative","title":"Zn [mg/kg]","axis":{"values":[0,20,40,60,80],"format":"d"}}}},
  {"data":{"name":"pts"},"transform":[{"filter":"datum.p=='Zn' && datum.t=='o'"}],"mark":{"type":"point","shape":"circle","size":170,"filled":false,"color":"#222","strokeWidth":2.2},"encoding":{"y":{"field":"v","type":"quantitative","title":"Zn [mg/kg]","axis":{"values":[0,20,40,60,80],"format":"d"}}}},
  {"data":{"name":"pts"},"transform":[{"filter":"datum.p=='Zn' && datum.t=='s'"}],"mark":{"type":"point","shape":"M0,0L0,-1M0,0L0.95,-0.31M0,0L-0.95,-0.31M0,0L0.59,0.81M0,0L-0.59,0.81","size":170,"filled":false,"color":"#222","strokeWidth":2.2},"encoding":{"y":{"field":"v","type":"quantitative","title":"Zn [mg/kg]","axis":{"values":[0,20,40,60,80],"format":"d"}}}},
  {"data":{"name":"lbl"},"transform":[{"filter":"datum.p=='Zn'"}],"mark":{"type":"text","fontSize":16,"color":"#222","align":"center","baseline":"middle"},"encoding":{"y":{"field":"v","type":"quantitative","title":"Zn [mg/kg]","axis":{"values":[0,20,40,60,80],"format":"d"}},"text":{"field":"s"}}}
 ]}
],
"config": {
 "font": "Liberation Sans",
 "view": {"stroke": "#222", "strokeWidth": 1.3},
 "tick": {"opacity": 1},
 "point": {"opacity": 1},
 "rule": {"opacity": 1},
 "axis": {"grid": false, "domain": false, "labelOverlap": false, "labelColor": "#222", "titleColor": "#222", "tickColor": "#222", "labelFont": "Liberation Sans", "titleFont": "Liberation Sans", "titleFontWeight": "bold"},
 "axisX": {"tickSize": 10, "tickWidth": 3, "labelFontSize": 17, "titleFontSize": 22, "labelPadding": 4, "titlePadding": 6},
 "axisY": {"tickSize": 12, "tickWidth": 2.5, "labelFontSize": 18, "titleFontSize": 23, "labelPadding": 3, "titlePadding": 3},
 "text": {"font": "Liberation Sans"}
}
}
